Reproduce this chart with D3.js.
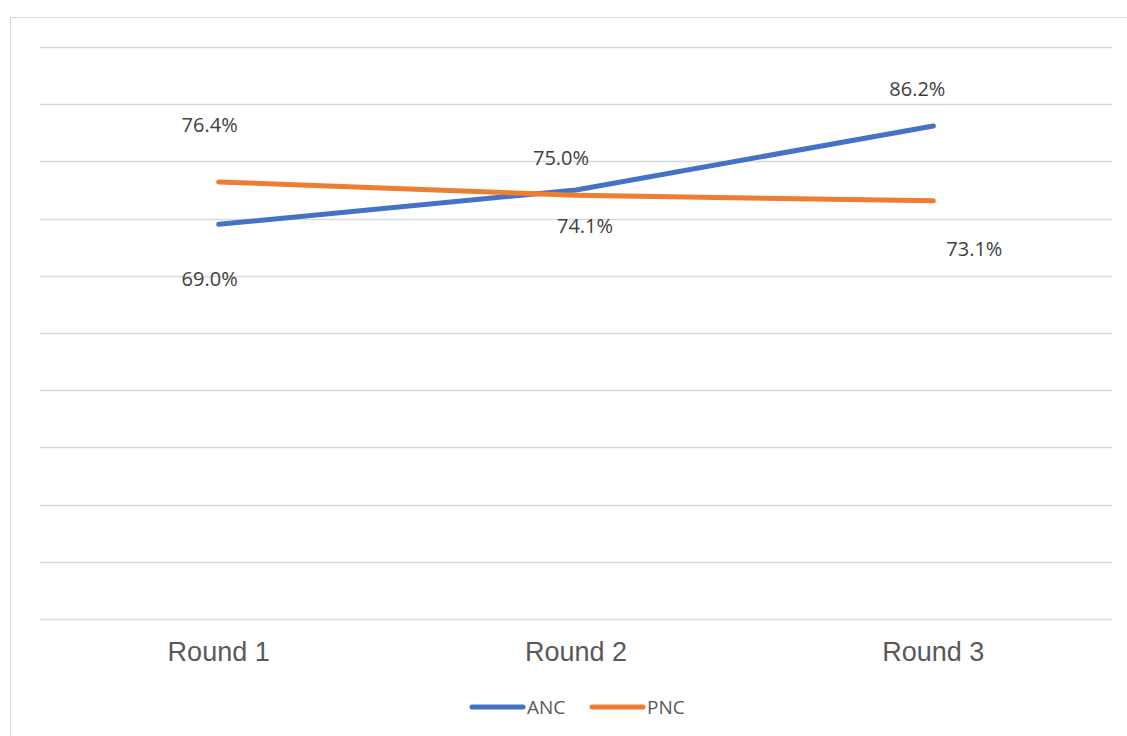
<!DOCTYPE html>
<html>
<head>
<meta charset="utf-8">
<script src="https://cdn.jsdelivr.net/npm/d3@7"></script>
<style>
  body { margin: 0; background: #fff; }
</style>
</head>
<body>
<svg id="chart" width="1127" height="736"></svg>
<script>
var rounds = ["Round 1", "Round 2", "Round 3"];
var ancValues = [69.0, 75.0, 86.2];
var pncValues = [76.4, 74.1, 73.1];
var seriesNames = ["ANC", "PNC"];
var colors = ["#4472C4", "#ED7D31"];
// label nudges (as placed in the original)
var ancLabelDx = [-9, -15, -16], ancLabelDy = [55, -32, -37];
var pncLabelDx = [-9, 9, 41], pncLabelDy = [-57, 31, 48];

var svg = d3.select("#chart"),
    margin = {top: 47, right: 15, bottom: 117, left: 40},
    width = 1127 - margin.left - margin.right,
    height = 736 - margin.top - margin.bottom;

svg.append("rect")
    .attr("x", 10.5).attr("y", 17.5)
    .attr("width", 1130).attr("height", 730)
    .attr("fill", "none")
    .attr("stroke", "#d9d9d9");

var g = svg.append("g").attr("transform", "translate(" + margin.left + "," + margin.top + ")");

var x = d3.scaleBand().domain(rounds).range([0, width]);
var y = d3.scaleLinear().domain([0, 100]).range([height, 0]);

g.append("g")
    .selectAll("line")
    .data(y.ticks(10))
    .enter().append("line")
    .attr("x1", 0).attr("x2", width)
    .attr("y1", function(d) { return Math.round(y(d)) + 0.5; })
    .attr("y2", function(d) { return Math.round(y(d)) + 0.5; })
    .attr("stroke", "#d9d9d9")
    .attr("stroke-width", 1.3);

var xAxis = g.append("g")
    .attr("transform", "translate(0," + height + ")")
    .call(d3.axisBottom(x).tickSize(0).tickPadding(23));
xAxis.select(".domain").remove();
xAxis.selectAll("text")
    .style("font-family", "'Liberation Sans', Arial, sans-serif")
    .style("font-size", "27px")
    .attr("fill", "#595959");

var series = [
  {name: seriesNames[0], values: ancValues, color: colors[0], dx: ancLabelDx, dy: ancLabelDy},
  {name: seriesNames[1], values: pncValues, color: colors[1], dx: pncLabelDx, dy: pncLabelDy}
];

var line = d3.line()
    .x(function(d, i) { return x(rounds[i]) + x.bandwidth() / 2; })
    .y(function(d) { return y(d); });

series.forEach(function(s) {
  g.append("path")
      .attr("d", line(s.values))
      .attr("fill", "none")
      .attr("stroke", s.color)
      .attr("stroke-width", 5)
      .attr("stroke-linecap", "round")
      .attr("stroke-linejoin", "round");
});

series.forEach(function(s) {
  g.selectAll(null)
      .data(s.values)
      .enter().append("text")
      .attr("x", function(d, i) { return x(rounds[i]) + x.bandwidth() / 2 + s.dx[i]; })
      .attr("y", function(d, i) { return y(d) + s.dy[i]; })
      .attr("dy", "0.35em")
      .attr("text-anchor", "middle")
      .style("font-family", "'Open Sans', 'Noto Sans', sans-serif")
      .style("font-size", "20px")
      .attr("fill", "#404040")
      .text(function(d) { return d.toFixed(1) + "%"; });
});

var legend = svg.append("g").attr("transform", "translate(470,707)");
var item = legend.selectAll("g")
    .data(series)
    .enter().append("g")
    .attr("transform", function(d, i) { return "translate(" + (i * 120) + ",0)"; });
item.append("line")
    .attr("x1", 2).attr("x2", 53)
    .attr("stroke", function(d) { return d.color; })
    .attr("stroke-width", 5)
    .attr("stroke-linecap", "round");
item.append("text")
    .attr("x", 57)
    .attr("dy", "0.35em")
    .style("font-family", "'Open Sans', 'Noto Sans', sans-serif")
    .style("font-size", "19px")
    .attr("fill", "#595959")
    .text(function(d) { return d.name; });
</script>
</body>
</html>
